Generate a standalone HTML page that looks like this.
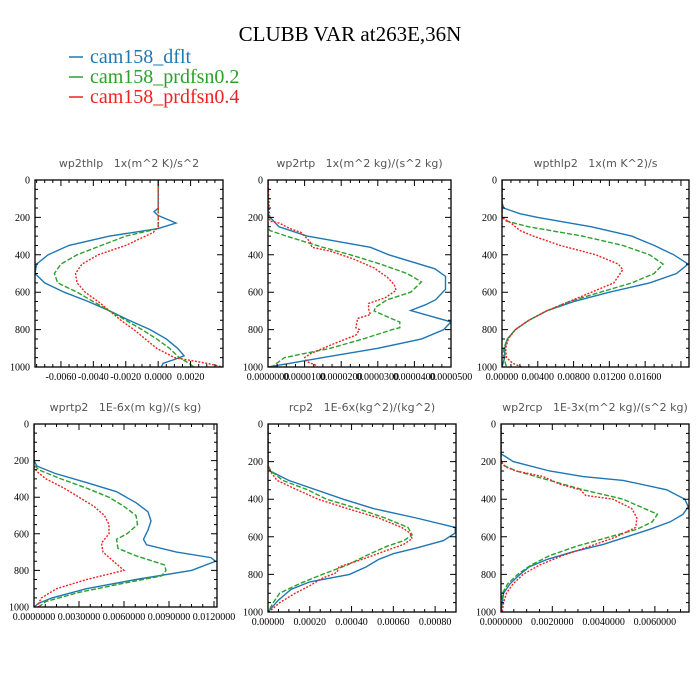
<!DOCTYPE html>
<html><head><meta charset="utf-8"><style>
html,body{margin:0;padding:0;background:#fff;}
svg{display:block;}
.pt{font-family:"DejaVu Sans","Liberation Sans",sans-serif;font-size:11px;fill:#555;}
.tk{font-family:"Liberation Serif",serif;font-size:10px;fill:#000;}
</style></head><body>
<svg id="fig" width="700" height="700" viewBox="0 0 700 700" xmlns="http://www.w3.org/2000/svg">
<rect width="700" height="700" fill="#fff"/>
<text x="350" y="41" text-anchor="middle" font-family="Liberation Serif,serif" font-size="21">CLUBB VAR at263E,36N</text>
<g>
<g><line x1="69" y1="57" x2="83" y2="57" stroke="#1f77b4" stroke-width="1.5"/><text x="90" y="63" font-family="Liberation Serif,serif" font-size="20" fill="#1f77b4">cam158_dflt</text></g>
<g><line x1="69" y1="77" x2="83" y2="77" stroke="#2ca02c" stroke-width="1.5"/><text x="90" y="83" font-family="Liberation Serif,serif" font-size="20" fill="#2ca02c">cam158_prdfsn0.2</text></g>
<g><line x1="69" y1="97" x2="83" y2="97" stroke="#ee2222" stroke-width="1.5"/><text x="90" y="103" font-family="Liberation Serif,serif" font-size="20" fill="#ee2222">cam158_prdfsn0.4</text></g>
</g>
</svg>
<script>
// ---- wp2thlp ----
const wp2thlp_dflt_p=[0,150,170,190,230,260,300,350,400,450,500,550,600,650,700,750,800,850,900,940,960,980,1000];
const wp2thlp_dflt_v=[0,0,-0.00026,0,0.0011,0,-0.0030,-0.0055,-0.0068,-0.0075,-0.0076,-0.0070,-0.0058,-0.0043,-0.0030,-0.0018,-0.0005,0.0005,0.0012,0.0016,0.0010,0.0003,0.0002];
const wp2thlp_p02_p=[0,250,260,300,350,400,450,500,550,600,650,700,750,800,850,900,950,980,1000];
const wp2thlp_p02_v=[0,0,0,-0.002,-0.0035,-0.0050,-0.0060,-0.0064,-0.0062,-0.0050,-0.0040,-0.0030,-0.0020,-0.0010,-0.0001,0.0007,0.0013,0.0019,0.0022];
const wp2thlp_p04_p=[0,250,260,280,350,400,450,500,550,600,650,700,750,800,850,900,950,980,1000];
const wp2thlp_p04_v=[0,0,-0.0001,-0.0003,-0.0020,-0.0037,-0.0047,-0.0051,-0.0050,-0.0045,-0.0037,-0.0030,-0.0023,-0.0015,-0.0008,-0.0001,0.0010,0.0030,0.0040];
// ---- wp2rtp (1e-5) ----
const wp2rtp_dflt_p=[0,180,200,250,300,360,400,475,515,585,640,667,698,759,800,850,900,950,980,1000];
const wp2rtp_dflt_v=[0,0,0.06,0.3,1.07,2.8,3.3,4.56,4.85,4.85,4.58,4.31,3.9,5.0,4.8,4.2,3.0,1.5,0.6,0];
const wp2rtp_p02_p=[0,250,270,300,360,400,450,500,545,600,640,680,700,740,760,790,800,850,900,950,1000];
const wp2rtp_p02_v=[0,0,0.05,0.5,1.5,2.25,3.07,3.8,4.19,3.9,3.26,2.94,2.9,3.36,3.6,3.6,3.4,2.6,1.7,0.45,0.1];
const wp2rtp_p04_p=[0,220,230,260,280,330,360,380,420,470,520,560,590,630,660,690,720,740,760,790,800,830,860,900,930,950,970,990,1000];
const wp2rtp_p04_v=[0,0.05,0.3,0.6,0.9,1.15,1.2,1.7,2.3,2.9,3.26,3.45,3.5,3.2,2.75,2.75,2.8,2.45,2.43,2.4,2.5,2.4,2.0,1.5,1.15,1.0,1.05,1.3,1.35];
// ---- wpthlp2 ----
const wpthlp2_dflt_p=[0,120,150,180,200,250,300,350,400,450,500,550,600,650,700,750,800,850,900,950,1000];
const wpthlp2_dflt_v=[0,0,0.0002,0.002,0.004,0.010,0.0145,0.017,0.0192,0.0208,0.0195,0.0165,0.012,0.008,0.005,0.003,0.0015,0.0006,0.0003,0.0003,0];
const wpthlp2_p02_p=[0,200,220,250,300,350,400,450,500,550,600,650,700,750,800,850,900,950,1000];
const wpthlp2_p02_v=[0,0,0.0005,0.003,0.009,0.0135,0.0165,0.0180,0.0170,0.0145,0.011,0.0075,0.005,0.003,0.0015,0.0006,0.0002,0.0002,0.0005];
const wpthlp2_p04_p=[0,200,230,270,300,350,400,450,480,550,600,650,700,750,800,850,900,950,980,1000];
const wpthlp2_p04_v=[0,0,0.001,0.002,0.0035,0.0065,0.0105,0.0130,0.0135,0.0125,0.0100,0.0075,0.0050,0.003,0.0015,0.0007,0.0004,0.0005,0.0012,0.0022];
// ---- wprtp2 ----
const wprtp2_dflt_p=[0,200,230,270,320,370,430,480,530,580,630,660,700,730,750,800,850,900,950,980,1000];
const wprtp2_dflt_v=[0,0,0.0002,0.0014,0.0035,0.0055,0.0068,0.0076,0.0078,0.0076,0.0073,0.0075,0.0095,0.0118,0.0121,0.0105,0.0068,0.0035,0.0012,0.0003,0];
const wprtp2_p02_p=[0,220,250,300,350,400,450,500,550,600,630,680,720,770,800,830,870,920,970,1000];
const wprtp2_p02_v=[0,0,0.0003,0.0018,0.0035,0.0050,0.0060,0.0068,0.0069,0.0062,0.0055,0.0056,0.0068,0.0087,0.0088,0.0085,0.0060,0.0030,0.0008,0.0003];
const wprtp2_p04_p=[0,230,260,300,350,400,450,500,550,600,650,700,750,800,850,900,950,980,1000];
const wprtp2_p04_v=[0,0,0.0002,0.0008,0.0020,0.0030,0.0040,0.0047,0.0050,0.0050,0.0045,0.0046,0.0053,0.0060,0.0035,0.0015,0.0005,0.0003,0.0003];
// ---- rcp2 (1e-4) ----
const rcp2_dflt_p=[0,220,250,300,400,450,500,550,580,620,660,690,720,760,800,840,880,940,1000];
const rcp2_dflt_v=[0,0,0.1,0.99,3.6,5.05,7.1,8.96,8.96,8.4,7.1,6.0,5.3,4.7,3.9,2.0,1.1,0.47,0];
const rcp2_p02_p=[0,220,250,300,350,400,450,500,550,590,620,650,700,750,800,850,900,950,1000];
const rcp2_p02_v=[0,0,0.15,0.7,1.9,2.8,4.3,5.6,6.7,6.9,6.5,5.7,4.7,3.8,2.6,1.5,0.56,0.25,0];
const rcp2_p04_p=[0,220,250,300,350,400,450,500,550,580,610,640,680,720,760,790,820,860,900,950,1000];
const rcp2_p04_v=[0,0,0.1,0.43,1.4,2.4,3.8,5.3,6.4,6.8,6.9,6.5,5.5,4.5,3.4,3.3,2.6,2.0,1.3,0.56,0.05];
// ---- wp2rcp (1e-3) ----
const wp2rcp_dflt_p=[0,150,160,200,250,280,300,350,400,440,480,520,560,600,640,680,720,760,800,850,900,1000];
const wp2rcp_dflt_v=[0,0,0.02,0.48,1.9,3.2,4.76,6.46,7.17,7.3,7.1,6.6,5.8,4.9,4.0,2.8,1.8,1.1,0.74,0.35,0.1,0];
const wp2rcp_p02_p=[0,200,220,250,300,350,400,450,480,520,560,600,650,700,750,800,850,900,1000];
const wp2rcp_p02_v=[0,0,0.1,0.6,1.9,3.2,4.76,5.6,6.1,5.9,5.3,4.25,2.95,1.9,1.17,0.65,0.26,0.06,0];
const wp2rcp_p04_p=[0,200,230,250,280,320,350,380,400,450,500,550,600,650,700,750,800,850,900,950,1000];
const wp2rcp_p04_v=[0,0,0.2,0.6,1.65,2.3,3.1,3.3,4.37,5.1,5.3,5.25,4.5,3.47,2.4,1.5,0.86,0.47,0.21,0.1,0.05];

const yTicks=[0,200,400,600,800,1000];
const wp2thlp_xticks=[-0.006,-0.004,-0.002,0,0.002];
const wp2thlp_xlabels=["-0.0060","-0.0040","-0.0020","0.0000","0.0020"];
const wp2rtp_xticks=[0,1,2,3,4,5];
const wp2rtp_xlabels=["0.0000000","0.0000100","0.0000200","0.0000300","0.0000400","0.0000500"];
const wpthlp2_xticks=[0,0.004,0.008,0.012,0.016];
const wpthlp2_xlabels=["0.00000","0.00400","0.00800","0.01200","0.01600"];
const wprtp2_xticks=[0,0.003,0.006,0.009,0.012];
const wprtp2_xlabels=["0.0000000","0.0030000","0.0060000","0.0090000","0.0120000"];
const rcp2_xticks=[0,2,4,6,8];
const rcp2_xlabels=["0.00000","0.00020","0.00040","0.00060","0.00080"];
const wp2rcp_xticks=[0,2,4,6];
const wp2rcp_xlabels=["0.0000000","0.0020000","0.0040000","0.0060000"];

const NS="http://www.w3.org/2000/svg";
const svg=document.getElementById('fig');
function mk(tag,attrs,parent){const e=document.createElementNS(NS,tag);for(const k in attrs)e.setAttribute(k,attrs[k]);parent.appendChild(e);return e;}
const styles=[{c:"#1f77b4",d:""},{c:"#2ca02c",d:"5,2"},{c:"#ee2222",d:"2,1.5"}];
const panels=[
 {name:"wp2thlp",title:"wp2thlp   1x(m^2 K)/s^2",box:[35,180,223,367],xr:[-0.0076,0.0040],minor:0.0005,xt:wp2thlp_xticks,xl:wp2thlp_xlabels,s:[[wp2thlp_dflt_p,wp2thlp_dflt_v],[wp2thlp_p02_p,wp2thlp_p02_v],[wp2thlp_p04_p,wp2thlp_p04_v]]},
 {name:"wp2rtp",title:"wp2rtp   1x(m^2 kg)/(s^2 kg)",box:[268,180,451,367],xr:[0,5.0],minor:0.25,xt:wp2rtp_xticks,xl:wp2rtp_xlabels,s:[[wp2rtp_dflt_p,wp2rtp_dflt_v],[wp2rtp_p02_p,wp2rtp_p02_v],[wp2rtp_p04_p,wp2rtp_p04_v]]},
 {name:"wpthlp2",title:"wpthlp2   1x(m K^2)/s",box:[502,180,689,367],xr:[0,0.0209],minor:0.001,xt:wpthlp2_xticks,xl:wpthlp2_xlabels,s:[[wpthlp2_dflt_p,wpthlp2_dflt_v],[wpthlp2_p02_p,wpthlp2_p02_v],[wpthlp2_p04_p,wpthlp2_p04_v]]},
 {name:"wprtp2",title:"wprtp2   1E-6x(m kg)/(s kg)",box:[34,424,217,607],xr:[0,0.0122],minor:0.00075,xt:wprtp2_xticks,xl:wprtp2_xlabels,s:[[wprtp2_dflt_p,wprtp2_dflt_v],[wprtp2_p02_p,wprtp2_p02_v],[wprtp2_p04_p,wprtp2_p04_v]]},
 {name:"rcp2",title:"rcp2   1E-6x(kg^2)/(kg^2)",box:[268,424,456,612],xr:[0,9.0],minor:0.5,xt:rcp2_xticks,xl:rcp2_xlabels,s:[[rcp2_dflt_p,rcp2_dflt_v],[rcp2_p02_p,rcp2_p02_v],[rcp2_p04_p,rcp2_p04_v]]},
 {name:"wp2rcp",title:"wp2rcp   1E-3x(m^2 kg)/(s^2 kg)",box:[501,424,689,612],xr:[0,7.33],minor:0.5,xt:wp2rcp_xticks,xl:wp2rcp_xlabels,s:[[wp2rcp_dflt_p,wp2rcp_dflt_v],[wp2rcp_p02_p,wp2rcp_p02_v],[wp2rcp_p04_p,wp2rcp_p04_v]]}
];
panels.forEach(P=>{
 const [x0,y0,x1,y1]=P.box;
 const g=mk('g',{},svg);
 
 
 const X=v=>x0+(v-P.xr[0])/(P.xr[1]-P.xr[0])*(x1-x0);
 const Y=p=>y0+p/1000*(y1-y0);
 const t=mk('text',{x:(x0+x1)/2,y:y0-13,'text-anchor':'middle',class:'pt'},g);
 
 
 t.textContent=P.title.replace(/ /g,'\u00a0');
 // series
 const cp=mk('clipPath',{id:'cp'+P.name},g);
 mk('rect',{x:x0,y:y0,width:x1-x0,height:y1-y0},cp);
 P.s.forEach((sr,i)=>{
  const [pp,vv]=sr;
  const d=pp.map((p,k)=>(k?'L':'M')+X(vv[k]).toFixed(1)+','+Y(p).toFixed(1)).join('');
  const path=mk('path',{d:d,fill:'none',stroke:styles[i].c,'stroke-width':1.4,'stroke-dasharray':styles[i].d,'clip-path':'url(#cp'+P.name+')'},g);
  
  
 });
 // ticks
 let td='';
 for(let p=0;p<=1000;p+=50){const maj=p%200===0;const L=maj?6:3;const y=Y(p);td+=`M${x0},${y}h${L}M${x1},${y}h${-L}`;}
 const step=P.xt[1]-P.xt[0];
 for(let v=P.xt[0]-step;v<=P.xr[1]+1e-12;v+=P.minor){if(v<P.xr[0]-1e-12)continue;const r=(v-P.xt[0])/step;const maj=Math.abs(r-Math.round(r))<1e-6;const L=maj?6:3;const x=X(v);td+=`M${x},${y1}v${-L}M${x},${y0}v${L}`;}
 const tp=mk('path',{d:td,stroke:'#000','stroke-width':1,fill:'none'},g);
 
 
 const frame=mk('rect',{x:x0,y:y0,width:x1-x0,height:y1-y0,fill:'none',stroke:'#000','stroke-width':1.3},g);
 
 
 yTicks.forEach(p=>{const e=mk('text',{x:x0-5,y:Y(p)+3.5,'text-anchor':'end',class:'tk'},g);
  
  
  e.textContent=p;});
 P.xt.forEach((v,k)=>{const e=mk('text',{x:X(v),y:y1+13,'text-anchor':'middle',class:'tk'},g);
  
  
  e.textContent=P.xl[k];});
});
</script>
</body></html>
